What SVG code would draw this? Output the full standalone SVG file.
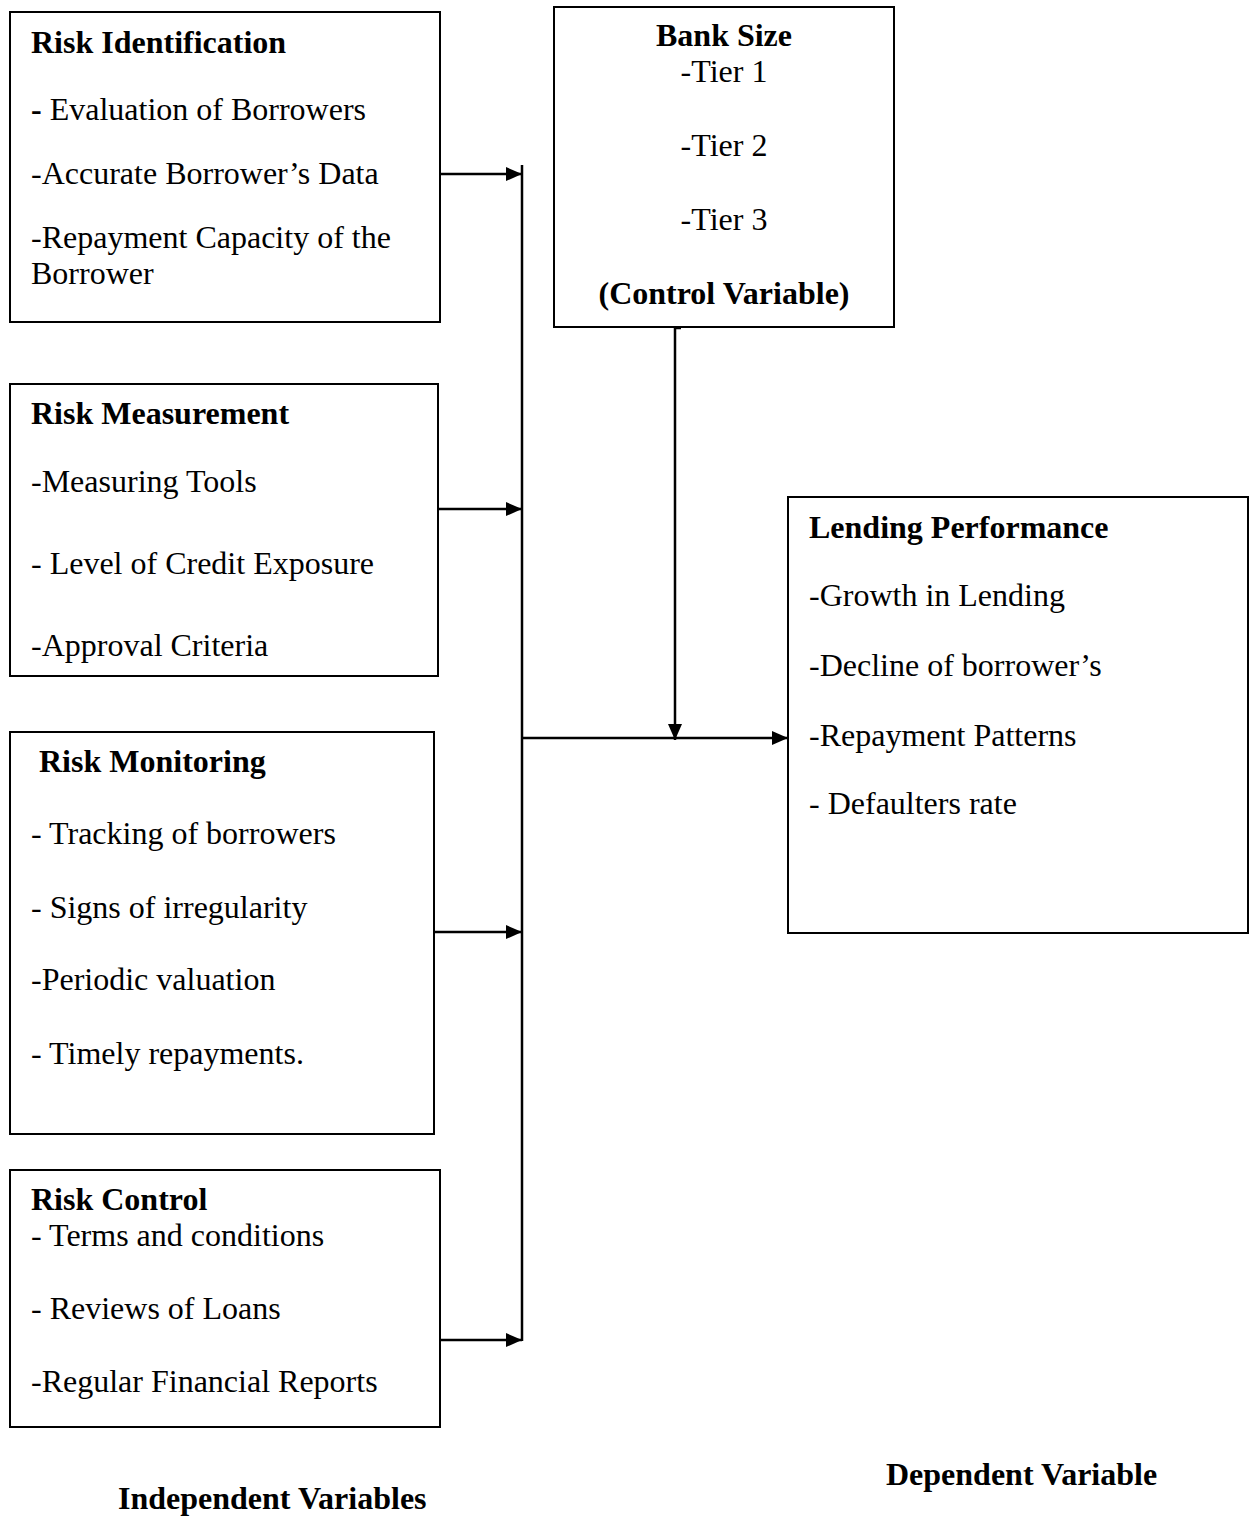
<svg xmlns="http://www.w3.org/2000/svg" width="1255" height="1518" viewBox="0 0 1255 1518">
<style>
.box{fill:#fff;stroke:#000;stroke-width:2}
text{font-family:"Liberation Serif","Times New Roman",serif;font-size:32px;fill:#000}
.b{font-weight:bold}
.c{text-anchor:middle}
.ln{stroke:#000;stroke-width:2.5;fill:none}
</style>
<defs>
<marker id="ah" markerWidth="16" markerHeight="14" refX="16" refY="7" orient="auto" markerUnits="userSpaceOnUse" viewBox="0 0 16 14">
<path d="M0,0 L16,7 L0,14 z" fill="#000"/>
</marker>
</defs>
<rect width="1255" height="1518" fill="#fff"/>
<g id="risk-identification">
<rect class="box" x="10" y="12" width="430" height="310"/>
<text class="b" x="31" y="53">Risk Identification</text>
<text x="31" y="120"><tspan class="b">-</tspan> Evaluation of Borrowers</text>
<text x="31" y="184">-Accurate Borrower’s Data</text>
<text x="31" y="248">-Repayment Capacity of the</text>
<text x="31" y="284">Borrower</text>
</g>
<g id="bank-size">
<rect class="box" x="554" y="7" width="340" height="320"/>
<text class="b c" x="724" y="46">Bank Size</text>
<text class="c" x="724" y="82">-Tier 1</text>
<text class="c" x="724" y="156">-Tier 2</text>
<text class="c" x="724" y="230">-Tier 3</text>
<text class="b c" x="724" y="304">(Control Variable)</text>
</g>
<g id="risk-measurement">
<rect class="box" x="10" y="384" width="428" height="292"/>
<text class="b" x="31" y="424">Risk Measurement</text>
<text x="31" y="492">-Measuring Tools</text>
<text x="31" y="574">- Level of Credit Exposure</text>
<text x="31" y="656">-Approval Criteria</text>
</g>
<g id="risk-monitoring">
<rect class="box" x="10" y="732" width="424" height="402"/>
<text class="b" x="39" y="772">Risk Monitoring</text>
<text x="31" y="844">- Tracking of borrowers</text>
<text x="31" y="918">- Signs of irregularity</text>
<text x="31" y="990">-Periodic valuation</text>
<text x="31" y="1064">- Timely repayments.</text>
</g>
<g id="risk-control">
<rect class="box" x="10" y="1170" width="430" height="257"/>
<text class="b" x="31" y="1210">Risk Control</text>
<text x="31" y="1246">- Terms and conditions</text>
<text x="31" y="1319">- Reviews of Loans</text>
<text x="31" y="1392">-Regular Financial Reports</text>
</g>
<g id="lending-performance">
<rect class="box" x="788" y="497" width="460" height="436"/>
<text class="b" x="809" y="538">Lending Performance</text>
<text x="809" y="606">-Growth in Lending</text>
<text x="809" y="676">-Decline of borrower’s</text>
<text x="809" y="746">-Repayment Patterns</text>
<text x="809" y="814">- Defaulters rate</text>
</g>
<g id="labels">
<text class="b" x="118" y="1509">Independent Variables</text>
<text class="b" x="886" y="1485">Dependent Variable</text>
</g>
<g id="connectors">
<line class="ln" x1="522" y1="165" x2="522" y2="1341"/>
<line class="ln" x1="440" y1="174" x2="522" y2="174" marker-end="url(#ah)"/>
<line class="ln" x1="438" y1="509" x2="522" y2="509" marker-end="url(#ah)"/>
<line class="ln" x1="434" y1="932" x2="522" y2="932" marker-end="url(#ah)"/>
<line class="ln" x1="440" y1="1340" x2="522" y2="1340" marker-end="url(#ah)"/>
<line class="ln" x1="522" y1="738" x2="788" y2="738" marker-end="url(#ah)"/>
<polyline class="ln" points="681,328 675,328 675,740" marker-end="url(#ah)"/>
</g>
</svg>
